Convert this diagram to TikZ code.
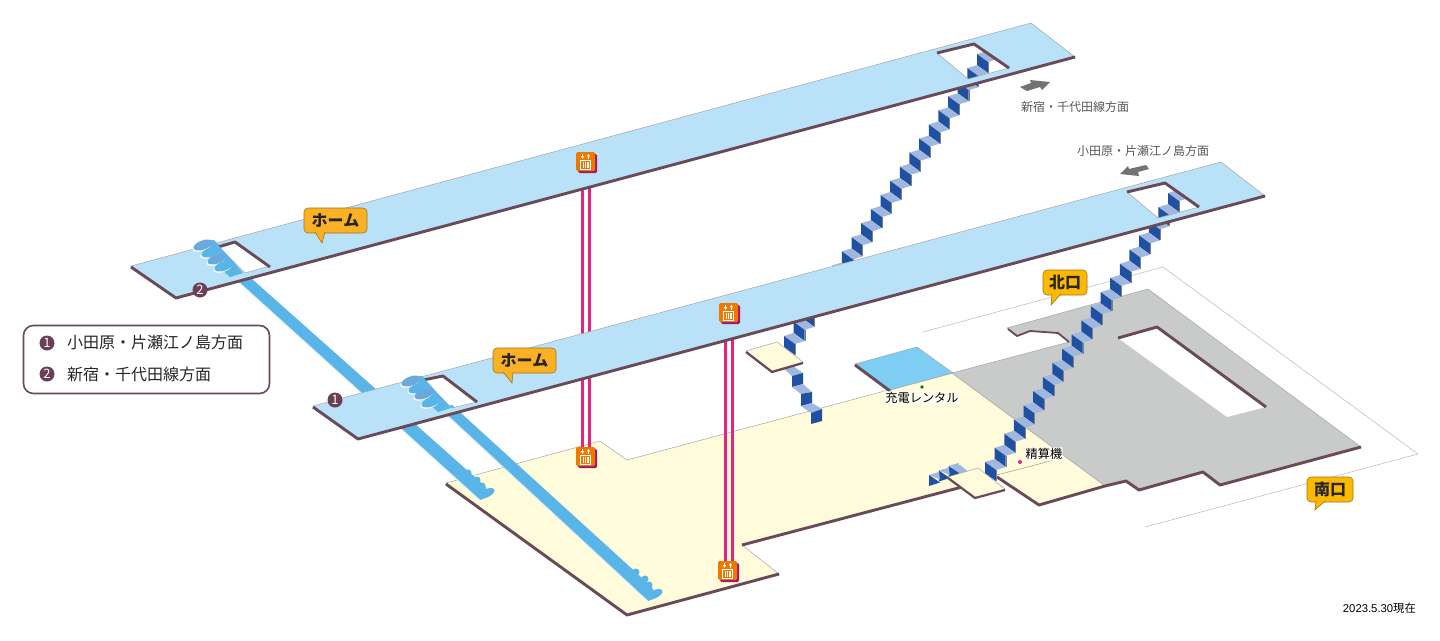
\documentclass[tikz,border=0pt]{standalone}
\usepackage{fontspec}
\setmainfont{Noto Sans CJK JP}
\newfontfamily\latinfont{Liberation Sans}
\usetikzlibrary{calc,arrows.meta}

\definecolor{edgebrown}{HTML}{6A4A57}
\definecolor{numbrown}{HTML}{6B3F56}
\definecolor{platblue}{HTML}{B9E2F8}
\definecolor{roomblue}{HTML}{7ECEF4}
\definecolor{floorcream}{HTML}{FFFBDB}
\definecolor{floorgray}{HTML}{C9CACA}
\definecolor{riserblue}{HTML}{1F50A2}
\definecolor{treadblue}{HTML}{A0B8E0}
\definecolor{escblue}{HTML}{59B4E8}
\definecolor{blobblue}{HTML}{6AA9DC}
\definecolor{liftpink}{HTML}{E6237E}
\definecolor{iconorange}{HTML}{EE7800}
\definecolor{iconshadow}{HTML}{A5156F}
\definecolor{homeorange}{HTML}{FBB125}
\definecolor{exityellow}{HTML}{FCB900}
\definecolor{labelgray}{HTML}{595757}

% one step of a stair, top corner of the riser at #1,#2
\newcommand{\stairstep}[2]{
  \fill[treadblue] (#1,#2) -- ++(11,8) -- ++(9.6,-3) -- ++(-11,-8) -- cycle;
  \fill[riserblue] (#1,#2) -- ++(11,8) -- ++(0,11) -- ++(-11,-8) -- cycle;
  \draw[gray,very thin] (#1+11,#2+8) -- ++(0,11);
}
% lift icon
\newcommand{\lifticon}[3]{
  \fill[iconshadow,rounded corners=1.5] (#2+2,#3+2) rectangle ++(19,19);
  \node (#1) [lifticonbox] at (#2+9.5,#3+9.5) {};
  \draw[white,line width=0.8] (#2+4.5,#3+8) rectangle ++(10,9);
  \foreach \b in {7,9,11,12.5} \draw[white,line width=0.7] (#2+\b,#3+10) -- ++(0,5.5);
  \draw[white,line width=1,-{Latex[length=2.6,width=3.6]}] (#2+6.5,#3+1.8) -- ++(0,5);
  \draw[white,line width=1,-{Latex[length=2.6,width=3.6]}] (#2+12.5,#3+6.8) -- ++(0,-5);
}
% one rounded tread at the head of an escalator
\newcommand{\escblob}[3]{
  \fill[white, rotate around={20:(#1-1,#2+1.2)}] (#1-1,#2+1.2) ellipse [x radius=10, y radius=4.6];
  \fill[#3, rotate around={20:(#1,#2)}] (#1,#2) ellipse [x radius=10, y radius=4.6];
}

\begin{document}
\begin{tikzpicture}[x=1pt,y=-1pt]
% Define styles
\tikzstyle{floorline} = [draw=gray!70, line width=0.5]
\tikzstyle{thickedge} = [draw=edgebrown, line width=2.9, line join=round]
\tikzstyle{platform} = [fill=platblue, draw=gray!70, line width=0.5, even odd rule]
\tikzstyle{strip} = [fill=escblue]
\tikzstyle{foot} = [fill=escblue]
\tikzstyle{lift} = [draw=liftpink, line width=3]
\tikzstyle{lifticonbox} = [rectangle, rounded corners=1.5, fill=iconorange, minimum size=19, inner sep=0]
\tikzstyle{num} = [circle, fill=numbrown, text=white, minimum size=15, inner sep=0, font=\fontsize{13}{13}\selectfont]
\tikzstyle{balloon} = [rectangle, rounded corners=4, draw=black!35!homeorange, line width=0.6, inner sep=0, font=\fontsize{16}{16}\selectfont\bfseries, text=black!85]
\tikzstyle{dirlabel} = [inner sep=0, anchor=west, text=labelgray, font=\fontsize{12}{12}\selectfont]
\tikzstyle{placelabel} = [inner sep=1, fill=white, fill opacity=0.6, text opacity=1, text=black, font=\fontsize{12.2}{13}\selectfont]
\tikzstyle{legendtext} = [inner sep=0, anchor=west, text=black!85, font=\fontsize{16}{16}\selectfont]

\useasboundingbox (0,0) rectangle (1440,640);
\fill[white] (0,0) rectangle (1440,640);

% Station outline
\draw[gray!55,line width=0.5] (923,332) -- (1163,267) -- (1418,454) -- (1145,527);

% Ground floor
\path[fill=floorgray, floorline] (1148,289) -- (1361,447) -- (1220,485) -- (1203,472) -- (1139,490) -- (1126,481) -- (1105,486) -- (952,373) -- (1069,342) -- (1058,333) -- (1030,331) -- (1017,336) -- (1007,328) -- cycle;
\path[fill=white] (1118,338) -- (1157,327) -- (1266,407) -- (1227,417) -- cycle;
\path[fill=floorcream, floorline] (446,483) -- (600,441) -- (627,460) -- (952,373) -- (1105,486) -- (1039,505) -- (997,476) -- (962,487) -- (742,545) -- (779,574) -- (626,615) -- cycle;
\path[fill=roomblue, floorline] (855,364) -- (917,347) -- (953,373) -- (890,390) -- cycle;
\draw[thickedge] (446,484) -- (627,615) -- (779,574);
\draw[thickedge] (742,545) -- (962,487);
\draw[thickedge] (997,477) -- (1039,505) -- (1105,486) -- (1126,481) -- (1139,490) -- (1203,472) -- (1220,485) -- (1361,447);
\draw[thickedge] (855,365) -- (890,391);
\draw[thickedge] (1118,338) -- (1157,327) -- (1266,407);
\draw[thickedge,line width=1.8] (1008,329) -- (1017,336) -- (1030,331) -- (1058,333) -- (1069,342);
\draw[gray!80,line width=0.5] (997,475) -- (1054,460);

% Small stair by the south side
\fill[treadblue] (949,469) -- (960,465) -- (970,473) -- (958,477) -- cycle;
\foreach \i in {2,1,0} {
  \fill[treadblue] (929+9.8*\i,475-4.5*\i) -- ++(10,-3) -- ++(1,7.5) -- cycle;
  \fill[riserblue] (929+9.8*\i,475-4.5*\i) -- ++(0,11) -- ++(11,-3.5) -- cycle;
}
\path[fill=floorcream, floorline] (948,477) -- (978,468) -- (1005,489) -- (975,498) -- cycle;
\draw[thickedge,line width=2.2] (948,478) -- (975,498) -- (1005,490);

% Lifts
\draw[lift] (582,172) -- (582,450);
\draw[lift] (589.5,172) -- (589.5,450);
\draw[lift] (725,322) -- (725,563);
\draw[lift] (732.5,322) -- (732.5,563);

% Escalators
\path[strip] (230,274) -- (240,283) -- (480,500) -- (488,497) -- (486,487) -- (252,279) -- (242,272) -- cycle;
\draw[white!70!escblue,line width=0.7] (240,283) -- (480,500);
\foreach \bx/\by in {468/473, 477/480, 482/486}
  \fill[escblue] (\bx,\by) circle (3.5);
\fill[foot, rotate around={25:(487,493)}] (487,493) ellipse [x radius=8, y radius=4];
\path[strip] (438,408) -- (445,413) -- (648,601) -- (656,598) -- (652,587) -- (462,414) -- (452,405) -- cycle;
\draw[white!70!escblue,line width=0.7] (445,413) -- (648,601);
\foreach \bx/\by in {636/572, 645/579, 649/585}
  \fill[escblue] (\bx,\by) circle (3.5);
\fill[foot, rotate around={25:(655,594)}] (655,594) ellipse [x radius=8, y radius=4];

% Stairs
\foreach \i in {0,...,19} {
  \pgfmathsetmacro{\sx}{1168-9.63*\i}
  \pgfmathsetmacro{\sy}{193+14.16*\i}
  \stairstep{\sx}{\sy}
}
\foreach \i in {0,...,20} {
  \pgfmathsetmacro{\sx}{977-9.65*\i}
  \pgfmathsetmacro{\sy}{54+14.1*\i}
  \stairstep{\sx}{\sy}
}
% Stair below the landing
\fill[treadblue] (783,368) -- (793,366) -- (803,373) -- (792,376) -- cycle;
\fill[riserblue] (792,376) -- (803,373) -- (803,384) -- (792,387) -- cycle;
\fill[treadblue] (792,387) -- (803,384) -- (812,392) -- (801,394) -- cycle;
\fill[riserblue] (801,394) -- (812,392) -- (812,403) -- (801,406) -- cycle;
\fill[treadblue] (801,406) -- (812,403) -- (822,409) -- (811,413) -- cycle;
\fill[riserblue] (811,413) -- (822,409) -- (822,421) -- (811,424) -- cycle;
% Landing
\path[fill=floorcream, floorline] (746,351) -- (777,342) -- (803,362) -- (772,371) -- cycle;
\draw[thickedge,line width=2.2] (746,352) -- (772,372) -- (803,363);

% Upper platform
\path[platform] (131,266) -- (1031,23) -- (1075,57) -- (176,298) -- cycle (217,245) -- (235,241) -- (270,266) -- (245,273) -- cycle (937,53) -- (974,43) -- (1009,68) -- (968,79) -- cycle;
\draw[thickedge] (131,267) -- (176,298) -- (1075,57);
\draw[thickedge] (215,248) -- (235,242) -- (270,267);
\draw[thickedge] (937,53) -- (974,44) -- (1009,68);

% Lower platform
\path[platform] (313,406) -- (1221,162) -- (1265,196) -- (358,439) -- cycle (423,380) -- (443,376) -- (477,402) -- (452,408) -- cycle (1127,192) -- (1165,182) -- (1199,207) -- (1158,218) -- cycle;
\draw[thickedge] (313,407) -- (358,439) -- (1265,196);
\draw[thickedge] (423,380) -- (443,376) -- (477,402);
\draw[thickedge] (1127,192) -- (1165,183) -- (1199,207);

% Escalator ends on the platforms
\path[strip] (205,241) -- (214,240) -- (243,273) -- (230,277) -- (217,265) -- cycle;
\path[strip] (413,377) -- (422,376) -- (451,408) -- (438,412) -- (425,400) -- cycle;
\escblob{203}{245}{blobblue}
\escblob{211}{252}{escblue}
\escblob{217}{259}{blobblue}
\escblob{224}{266}{escblue}
\escblob{411}{381}{blobblue}
\escblob{418}{388}{escblue}
\escblob{424}{394}{blobblue}
\escblob{431}{402}{escblue}

% Lift icons
\lifticon{liftupper}{576}{152}
\lifticon{liftmiddle}{719}{303}
\lifticon{liftfloora}{576}{447}
\lifticon{liftfloorb}{718}{561}

% Direction arrows and labels
\fill[gray!90!black] (1020,87) -- (1031,83) -- (1030,80) -- (1050,82) -- (1042,90) -- (1040,87) -- (1027,91) -- cycle;
\fill[gray!90!black] (1149,169) -- (1138,172) -- (1139,176) -- (1120,174) -- (1128,166) -- (1129,169) -- (1146,165) -- cycle;
\node (dirshinjuku) [dirlabel] at (1021,106.5) {新宿・千代田線方面};
\node (diroda) [dirlabel] at (1077,150.5) {小田原・片瀬江ノ島方面};

% Balloons
\node (homeupper) [balloon, fill=homeorange, minimum width=63, minimum height=25] at (335.5,220.5) {ホーム};
\draw[draw=black!35!homeorange, fill=homeorange, line width=0.6] (315,232) -- (322,243) -- (325,232);
\node (homelower) [balloon, fill=homeorange, minimum width=63, minimum height=25] at (524.5,360.5) {ホーム};
\draw[draw=black!35!homeorange, fill=homeorange, line width=0.6] (503,372) -- (512,383) -- (513,372);
\node (exitnorth) [balloon, fill=exityellow, minimum width=44, minimum height=25] at (1065,282.5) {北口};
\draw[draw=black!35!homeorange, fill=exityellow, line width=0.6] (1052,294) -- (1051,305) -- (1061,294);
\node (exitsouth) [balloon, fill=exityellow, minimum width=46, minimum height=25] at (1330,489.5) {南口};
\draw[draw=black!35!homeorange, fill=exityellow, line width=0.6] (1316,501) -- (1315,510) -- (1325,501);

% Place labels
\fill[green!50!black] (922,387) circle (1.8);
\fill[liftpink] (1020,462) circle (2);
\node (rental) [placelabel] at (922,398) {充電レンタル};
\node (fare) [placelabel] at (1044,454) {精算機};

% Platform numbers
\node (numone) [num] at (335,400) {1};
\node (numtwo) [num] at (200,290) {2};

% Legend
\node (legendbox) [rectangle, rounded corners=10, draw=edgebrown, line width=1.6, minimum width=246, minimum height=68] at (146.5,359.5) {};
\node (legendone) [num] at (47,343) {1};
\node (legendtwo) [num] at (47,374) {2};
\node (legendonetext) [legendtext] at (67,342) {小田原・片瀬江ノ島方面};
\node (legendtwotext) [legendtext] at (67,374) {新宿・千代田線方面};

% Date
\node (datelabel) [inner sep=0, anchor=east, text=black, font=\fontsize{11.3}{12}\selectfont] at (1416,608) {{\latinfont 2023.5.30}現在};

\end{tikzpicture}
\end{document}
